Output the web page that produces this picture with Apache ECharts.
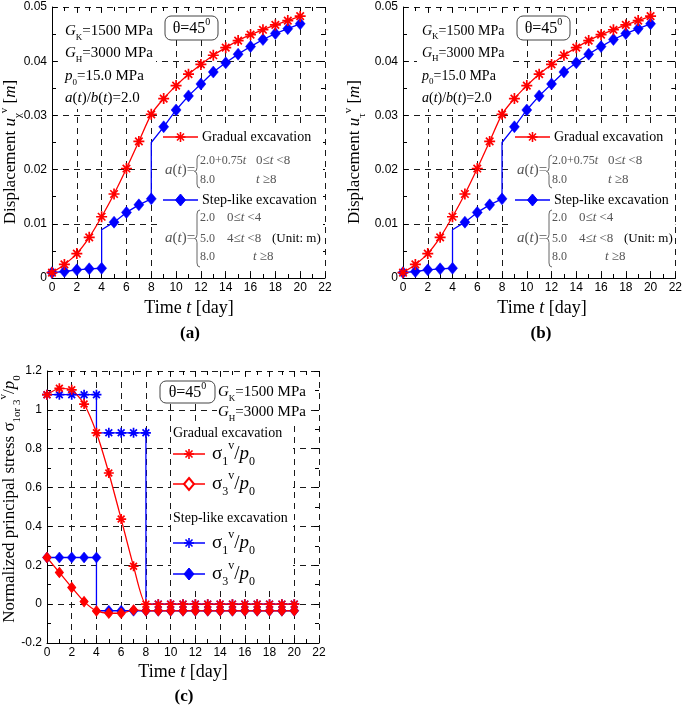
<!DOCTYPE html>
<html><head><meta charset="utf-8">
<script src="https://cdn.jsdelivr.net/npm/echarts@6/dist/echarts.min.js"></script>
<style>html,body{margin:0;padding:0;background:#fff}#c{width:685px;height:709px}</style>
</head><body><div id="c"></div>
<script>
// ---------- data ----------
const days = [0,1,2,3,4,5,6,7,8,9,10,11,12,13,14,15,16,17,18,19,20];
const xTickLabels = ['0','2','4','6','8','10','12','14','16','18','20','22'];

// (a) displacement u_chi
const gradualUx = [0.0010,0.0025,0.0045,0.0075,0.0113,0.0155,0.0202,0.0252,0.0302,0.0331,0.0355,0.0376,0.0394,0.0411,0.0425,0.0438,0.0449,0.0458,0.0467,0.0475,0.0483];
const stepUx = [0.0010,0.0012,0.0015,0.0017,0.0018,0.0103,0.0121,0.0135,0.0146,0.0279,0.0310,0.0336,0.0358,0.0380,0.0397,0.0413,0.0427,0.0440,0.0451,0.0460,0.0469];
const stepUxJumpDays = [4, 8];
const stepUxJumpValues = [0.0089, 0.0250];

// (b) displacement u_tau
const gradualUt = [0.0010,0.0025,0.0045,0.0075,0.0113,0.0155,0.0202,0.0252,0.0302,0.0331,0.0355,0.0376,0.0394,0.0411,0.0425,0.0438,0.0449,0.0458,0.0467,0.0475,0.0483];
const stepUt = [0.0010,0.0012,0.0015,0.0017,0.0018,0.0103,0.0121,0.0135,0.0146,0.0279,0.0310,0.0336,0.0358,0.0380,0.0397,0.0413,0.0427,0.0440,0.0451,0.0460,0.0469];
const stepUtJumpDays = [4, 8];
const stepUtJumpValues = [0.0089, 0.0250];

// (c) normalized principal stress
const gradualS1 = [1.078,1.111,1.103,1.030,0.882,0.675,0.438,0.195,0,0,0,0,0,0,0,0,0,0,0,0,0];
const gradualS3 = [0.240,0.163,0.086,0.013,-0.035,-0.047,-0.047,-0.030,-0.034,-0.034,-0.034,-0.034,-0.034,-0.034,-0.034,-0.034,-0.034,-0.034,-0.034,-0.034,-0.034];
const stepS1 = [1.078,1.078,1.078,1.078,1.078,0.882,0.882,0.882,0.882,0,0,0,0,0,0,0,0,0,0,0,0];
const stepS1JumpDays = [4, 8];
const stepS1JumpValues = [0.882, 0];
const stepS3 = [0.240,0.240,0.240,0.240,0.240,-0.034,-0.034,-0.034,-0.034,-0.034,-0.034,-0.034,-0.034,-0.034,-0.034,-0.034,-0.034,-0.034,-0.034,-0.034,-0.034];
const stepS3JumpDays = [4];
const stepS3JumpValues = [-0.034];

// ---------- styling ----------
const SANS = '"Liberation Sans", Arial, sans-serif';
const SERIF = '"Liberation Serif", "Times New Roman", serif';
const RED = '#ff0000', BLUE = '#0000ff';
const STAR = 'path://M5,0L5,10M0,5L10,5M1.6,1.6L8.4,8.4M8.4,1.6L1.6,8.4';
const GRIDS = [
  {left: 52, top: 7, width: 273, height: 271},
  {left: 403, top: 7, width: 275, height: 271},
  {left: 47, top: 371, width: 272, height: 272}
];
const YRANGE = [
  {min: 0, max: 0.05, interval: 0.01},
  {min: 0, max: 0.05, interval: 0.01},
  {min: -0.2, max: 1.2, interval: 0.2}
];

function xAxes(gi) {
  const base = (pos) => ({
    type: 'value', gridIndex: gi, position: pos, min: 0, max: 22, interval: 2,
    axisLine: {show: pos === 'bottom', onZero: false, lineStyle: {color: '#000', width: 1}},
    axisTick: {show: true, inside: true, length: 5, lineStyle: {color: '#000'}},
    minorTick: {show: true, splitNumber: 2, length: 4, lineStyle: {color: '#000'}},
    axisLabel: {show: pos === 'bottom', fontSize: 12, fontFamily: SANS, color: '#000', margin: 4,
      formatter: (v) => xTickLabels[Math.round(v / 2)]},
    splitLine: {show: pos === 'bottom', lineStyle: {type: [6, 5], color: '#1a1a1a', width: 1}}
  });
  return [base('bottom'), base('top')];
}
function yAxes(gi) {
  const r = YRANGE[gi];
  const base = (pos) => ({
    type: 'value', gridIndex: gi, position: pos, min: r.min, max: r.max, interval: r.interval,
    axisLine: {show: pos === 'left', onZero: false, lineStyle: {color: '#000', width: 1}},
    axisTick: {show: true, inside: true, length: 5, lineStyle: {color: '#000'}},
    minorTick: {show: true, splitNumber: 2, length: 4, lineStyle: {color: '#000'}},
    axisLabel: {show: pos === 'left', fontSize: 12, fontFamily: SANS, color: '#000', margin: 5},
    splitLine: {show: pos === 'left', lineStyle: {type: [6, 5], color: '#1a1a1a', width: 1}}
  });
  return [base('left'), base('right')];
}

function mkLine(gi, vals, jd, jv, color, kind, smooth, big) {
  const data = [];
  days.forEach((d, i) => {
    data.push({value: [d, vals[i]]});
    const k = jd.indexOf(d);
    if (k >= 0) data.push({value: [d, jv[k]], symbol: 'none'});
  });
  let symbol, size, itemStyle;
  if (kind === 'star') { symbol = STAR; size = big ? 11 : 10; itemStyle = {color: color, borderColor: color, borderWidth: 1.7}; }
  else if (kind === 'hdiamond') { symbol = 'diamond'; size = [8, 10]; itemStyle = {color: color, borderColor: color, borderWidth: 1}; }
  else { symbol = 'diamond'; size = big ? [10, 12] : [9, 11]; itemStyle = {color: color, borderColor: color, borderWidth: 0.5}; }
  return {
    type: 'line', xAxisIndex: gi * 2, yAxisIndex: gi * 2, data, smooth: smooth || false,
    symbol, symbolSize: size, showSymbol: true, showAllSymbol: true,
    lineStyle: {color, width: 1.3}, itemStyle, animation: false, silent: true, z: 3
  };
}

// ---------- text helpers ----------
function richSet(s, color) {
  const lh = Math.round(s * 1.45), ss = Math.round(s * 0.62);
  return {
    n: {font: `${s}px ${SERIF}`, lineHeight: lh, fill: color},
    i: {font: `italic ${s}px ${SERIF}`, lineHeight: lh, fill: color},
    sub: {font: `${ss}px ${SERIF}`, lineHeight: ss, verticalAlign: 'bottom', fill: color},
    sup: {font: `${ss}px ${SERIF}`, lineHeight: ss, verticalAlign: 'top', fill: color}
  };
}
function T(x, y, text, s, o) {
  o = o || {};
  const color = o.color || '#000';
  return {
    type: 'text', x, y, z: 30, rotation: o.rot || 0, silent: true,
    style: {
      text, font: `${o.bold ? 'bold ' : ''}${s}px ${SERIF}`, fill: color,
      align: o.align || 'left', verticalAlign: 'middle',
      lineHeight: Math.round(s * 1.45), rich: richSet(s, color)
    }
  };
}
function L(x1, y1, x2, y2, stroke, w) {
  return {type: 'line', z: 30, silent: true, shape: {x1, y1, x2, y2}, style: {stroke, lineWidth: w}};
}
function whiteRect(x, y, w, h) {
  return {type: 'rect', z: 1, silent: true, shape: {x, y, width: w, height: h}, style: {fill: '#fff'}};
}
function thetaBox(x, y, w, h) {
  return [
    {type: 'rect', z: 25, silent: true, shape: {x, y, width: w, height: h, r: 6}, style: {fill: '#fff', stroke: '#444', lineWidth: 1}},
    T(x + w / 2, y + h / 2 + 1, 'θ=45{sup|0}', 16, {align: 'center'})
  ];
}
function bez(x1, y1, cx, cy, x2, y2) {
  return {type: 'bezierCurve', z: 30, silent: true, shape: {x1, y1, x2, y2, cpx1: cx, cpy1: cy}, style: {stroke: '#666', lineWidth: 1, fill: null}};
}
function brace(x, y1, y2) {
  const m = (y1 + y2) / 2, c = '#666';
  return [
    bez(x + 4, y1, x + 1, y1, x + 1, y1 + 4),
    L(x + 1, y1 + 4, x + 1, m - 4, c, 1),
    bez(x + 1, m - 4, x + 1, m, x - 1.5, m),
    bez(x - 1.5, m, x + 1, m, x + 1, m + 4),
    L(x + 1, m + 4, x + 1, y2 - 4, c, 1),
    bez(x + 1, y2 - 4, x + 1, y2, x + 4, y2)
  ];
}
function legendItem(x1, x2, y, color, kind) {
  const cx = (x1 + x2) / 2;
  const els = [L(x1, y, x2, y, color, 1.5)];
  if (kind === 'star') {
    const r = 5, q = 3.5;
    els.push(L(cx, y - r, cx, y + r, color, 1.6), L(cx - r, y, cx + r, y, color, 1.6),
             L(cx - q, y - q, cx + q, y + q, color, 1.6), L(cx + q, y - q, cx - q, y + q, color, 1.6));
  } else {
    const hollow = kind === 'hdiamond';
    els.push({type: 'polygon', z: 31, silent: true,
      shape: {points: [[cx, y - 6], [cx + 5, y], [cx, y + 6], [cx - 5, y]]},
      style: {fill: hollow ? '#fff' : color, stroke: color, lineWidth: hollow ? 2 : 1}});
  }
  return els;
}

function displacementPanelTexts(dx, gx, gsize, sub) {
  const F = '#555';
  return [
    whiteRect(60 + gx, 16, 96, 93),
    T(65 + gx, 31, '{i|G}{sub|K}=1500 MPa', gsize),
    T(65 + gx, 53, '{i|G}{sub|H}=3000 MPa', gsize),
    T(65 + gx, 76, '{i|p}{sub|0}=15.0 MPa', gsize),
    T(65 + gx, 98, '{i|a}({i|t})/{i|b}({i|t})=2.0', gsize),
    ...thetaBox(165 + dx, 16, 53, 24),
    whiteRect(160 + dx, 128, 163, 143),
    ...legendItem(163 + dx, 198 + dx, 137, RED, 'star'),
    T(202 + dx, 137, 'Gradual excavation', 14),
    T(165 + dx, 170, '{i|a}({i|t})=', 15, {color: F}),
    ...brace(196 + dx, 155, 188),
    T(200 + dx, 161, '2.0+0.75{i|t}', 12, {color: F}),
    T(256 + dx, 161, '0≤{i|t} <8', 13, {color: F}),
    T(200 + dx, 180, '8.0', 12, {color: F}),
    T(256 + dx, 180, '{i|t} ≥8', 13, {color: F}),
    ...legendItem(163 + dx, 198 + dx, 200, BLUE, 'diamond'),
    T(202 + dx, 200, 'Step-like excavation', 14),
    T(165 + dx, 238, '{i|a}({i|t})=', 15, {color: F}),
    ...brace(196 + dx, 210, 267),
    T(200 + dx, 218, '2.0', 12, {color: F}),
    T(227 + dx, 218, '0≤{i|t} <4', 13, {color: F}),
    T(200 + dx, 239, '5.0', 12, {color: F}),
    T(227 + dx, 239, '4≤{i|t} <8', 13, {color: F}),
    T(272 + dx, 239, '(Unit: m)', 13),
    T(200 + dx, 257, '8.0', 12, {color: F}),
    T(253 + dx, 257, '{i|t} ≥8', 13, {color: F}),
    T(11 + (dx ? 344 : 0), 152, 'Displacement {i|u}{sub|' + sub + '}{sup|v} [{i|m}]', 17, {align: 'center', rot: Math.PI / 2}),
    T(189 + (dx ? 353 : 0), 308, 'Time {i|t} [day]', 18, {align: 'center'})
  ];
}

const graphics = [
  ...displacementPanelTexts(0, 0, 15, 'χ'),
  T(190, 334, '(a)', 17, {align: 'center', bold: true}),
  ...displacementPanelTexts(352, 357, 14, 'τ'),
  T(541, 334, '(b)', 17, {align: 'center', bold: true}),
  // panel (c)
  ...thetaBox(160, 381, 55, 22),
  whiteRect(217, 381, 94, 42),
  T(218, 392, '{i|G}{sub|K}=1500 MPa', 15),
  T(218, 412, '{i|G}{sub|H}=3000 MPa', 15),
  whiteRect(171, 422, 122, 164),
  T(173, 433, 'Gradual excavation', 14),
  ...legendItem(173, 205, 454, RED, 'star'),
  T(212, 454, 'σ{sub|1}{sup|v}/{i|p}{sub|0}', 19),
  ...legendItem(173, 205, 484, RED, 'hdiamond'),
  T(212, 484, 'σ{sub|3}{sup|v}/{i|p}{sub|0}', 19),
  T(173, 518, 'Step-like excavation', 14),
  ...legendItem(173, 205, 543, BLUE, 'star'),
  T(212, 543, 'σ{sub|1}{sup|v}/{i|p}{sub|0}', 19),
  ...legendItem(173, 205, 574, BLUE, 'diamond'),
  T(212, 574, 'σ{sub|3}{sup|v}/{i|p}{sub|0}', 19),
  T(10, 499, 'Normalized principal stress σ{sub|1or 3}{sup|v}/{i|p}{sub|0}', 17, {align: 'center', rot: Math.PI / 2}),
  T(183, 672, 'Time {i|t} [day]', 18, {align: 'center'}),
  T(184, 697, '(c)', 17, {align: 'center', bold: true})
];

const option = {
  animation: false,
  backgroundColor: '#fff',
  grid: GRIDS.map(g => Object.assign({containLabel: false}, g)),
  xAxis: [...xAxes(0), ...xAxes(1), ...xAxes(2)],
  yAxis: [...yAxes(0), ...yAxes(1), ...yAxes(2)],
  series: [
    mkLine(0, stepUx, stepUxJumpDays, stepUxJumpValues, BLUE, 'diamond', false, true),
    mkLine(0, gradualUx, [], [], RED, 'star', 0.25, true),
    mkLine(1, stepUt, stepUtJumpDays, stepUtJumpValues, BLUE, 'diamond', false, true),
    mkLine(1, gradualUt, [], [], RED, 'star', 0.25, true),
    mkLine(2, stepS1, stepS1JumpDays, stepS1JumpValues, BLUE, 'star', false),
    mkLine(2, stepS3, stepS3JumpDays, stepS3JumpValues, BLUE, 'diamond', false),
    mkLine(2, gradualS1, [], [], RED, 'star', 0.2),
    mkLine(2, gradualS3, [], [], RED, 'hdiamond', 0.2)
  ],
  graphic: {elements: graphics}
};
const chart = echarts.init(document.getElementById('c'), null, {renderer: 'canvas'});
chart.setOption(option);
</script>
</body></html>
